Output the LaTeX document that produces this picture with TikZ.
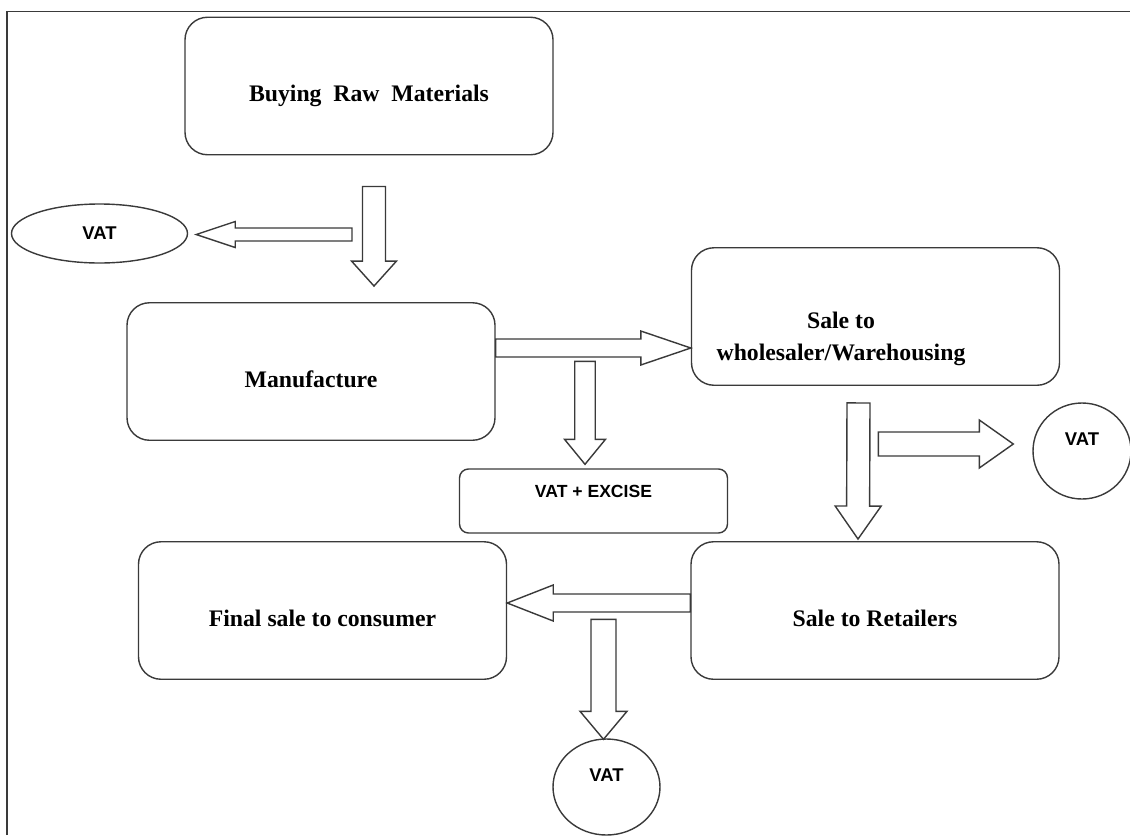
\documentclass[tikz,border=0pt]{standalone}
\usepackage{fontspec}
\setmainfont{Liberation Serif}
\setsansfont{Liberation Sans}
\usetikzlibrary{calc,positioning,shapes.geometric}
\definecolor{flowline}{HTML}{3A3A3A}

\newcommand{\fatarrow}[5]{%
  \path #4 coordinate (fa-from) #5 coordinate (fa-to);
  \path ($(fa-to)!#3!(fa-from)$) coordinate (fa-base);
  \draw[fat] ($(fa-from)!#1!90:(fa-to)$) -- ($(fa-base)!#1!-90:(fa-from)$)
    -- ($(fa-base)!#2!-90:(fa-from)$) -- (fa-to) -- ($(fa-base)!#2!90:(fa-from)$)
    -- ($(fa-base)!#1!90:(fa-from)$) -- ($(fa-from)!#1!-90:(fa-to)$) -- cycle;
}

\begin{document}
\begin{tikzpicture}[
    x=0.2mm, y=-0.2mm,
    box/.style={draw=flowline, line width=0.8pt, rounded corners=4.5mm,
                minimum width=73.6mm, minimum height=27.5mm, inner sep=0pt,
                font=\bfseries\fontsize{13.5}{18}\selectfont, text height=7.3mm, text depth=1mm},
    vat/.style={ellipse, draw=flowline, line width=0.8pt, inner sep=0pt,
                font=\sffamily\bfseries\fontsize{10.5}{12}\selectfont},
    fat/.style={draw=flowline, line width=0.8pt, fill=white, line join=miter}
  ]
  \useasboundingbox (0,0) rectangle (1130,835);
  \draw[flowline, line width=1pt] (7,835) -- (7,11.5) -- (1130,11.5);
  \node[box] (buy) at (369,86) {Buying~ Raw~ Materials};
  \node[box] (manu) at (311,371.5) {Manufacture};
  \node[box, label={[font=\bfseries\fontsize{13.5}{18}\selectfont, align=center,
        xshift=-6.9mm, yshift=-4.5mm]center:Sale to\\wholesaler/Warehousing}] (whole) at (875.5,316.5) {};
  \node[box, minimum width=53.6mm, minimum height=12.8mm, rounded corners=1.8mm,
        font=\sffamily\bfseries\fontsize{10}{12}\selectfont, text height=2.6mm, text depth=4.1mm] (excise) at (593.5,501) {VAT + EXCISE};
  \node[box] (final) at (322.5,610.5) {Final sale to consumer};
  \node[box] (retail) at (875,610.5) {Sale to Retailers};
  \node[vat, minimum width=35.2mm, minimum height=11.8mm] (vat1) at (99.5,233.5) {VAT};
  \node[vat, minimum width=19.6mm, minimum height=19.2mm, text height=2.2mm, text depth=4.5mm] (vat2) at (1082,451) {VAT};
  \node[vat, minimum width=21.4mm, minimum height=19.2mm, text height=2.2mm, text depth=4.5mm] (vat3) at (606.5,787) {VAT};
  \fatarrow{2.3mm}{4.5mm}{5mm}{($(buy.south)+(5,31)$)}{($(buy.south |- manu.north)+(5,-16)$)}
  \fatarrow{1.3mm}{2.6mm}{7.8mm}{($(buy.south |- vat1.east)+(-17,1)$)}{($(vat1.east)+(8,1)$)}
  \fatarrow{1.8mm}{3.4mm}{10mm}{($(manu.east)+(0,-23.5)$)}{($(manu.east -| whole.west)+(0,-23.5)$)}
  \fatarrow{2.05mm}{4.1mm}{5mm}{($(excise.north)+(-8.5,-107)$)}{($(excise.north)+(-8.5,-4)$)}
  \fatarrow{2.3mm}{4.6mm}{6.6mm}{($(whole.south)+(-17,17)$)}{($(retail.north)+(-17,-2)$)}
  \fatarrow{2.4mm}{4.8mm}{6.8mm}{($(vat2.west)+(-154,-7)$)}{($(vat2.west)+(-19,-7)$)}
  \fatarrow{1.8mm}{3.6mm}{9.2mm}{($(retail.west)+(0,-7.5)$)}{($(final.east)+(0,-7.5)$)}
  \fatarrow{2.5mm}{4.7mm}{5.6mm}{($(vat3.north)+(-3,-119)$)}{($(vat3.north)+(-3,1)$)}
\end{tikzpicture}
\end{document}
